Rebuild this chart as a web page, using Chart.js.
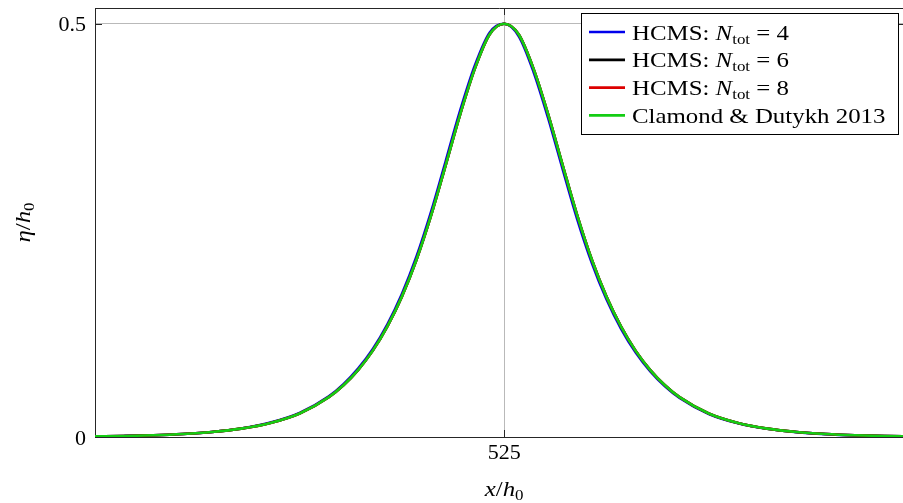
<!DOCTYPE html>
<html>
<head>
<meta charset="utf-8">
<script src="https://cdn.jsdelivr.net/npm/chart.js@4.4.1/dist/chart.umd.min.js"></script>
<style>
  html, body { margin: 0; padding: 0; background: #ffffff; overflow: hidden; }
  #wrap { position: relative; width: 906px; height: 503px; }
  canvas { display: block; }
</style>
</head>
<body>
<div id="wrap"><canvas id="wave" width="906" height="503"></canvas></div>
<script>
// Free-surface elevation eta/h0 of the solitary wave along x/h0.
const xPositions = [
  518, 518.5, 519, 519.5, 520, 520.5, 521, 521.5, 522,
  522.25, 522.5, 522.75, 523, 523.25, 523.5, 523.75, 524, 524.25, 524.5, 524.75,
  525,
  525.25, 525.5, 525.75, 526, 526.25, 526.5, 526.75, 527, 527.25, 527.5, 527.75, 528,
  528.5, 529, 529.5, 530, 530.5, 531, 531.5, 532
];

const etaHcms4 = [
  0.0007, 0.0013, 0.0022, 0.0037, 0.0061, 0.0103, 0.0174, 0.0291, 0.0491,
  0.0639, 0.0827, 0.1063, 0.1361, 0.173, 0.2183, 0.2726, 0.3339, 0.3957, 0.4498, 0.4892,
  0.4999,
  0.4848, 0.4422, 0.3863, 0.3241, 0.2634, 0.2105, 0.1666, 0.1309, 0.1021, 0.0793, 0.0613, 0.0473,
  0.0279, 0.0166, 0.0099, 0.0059, 0.0035, 0.002, 0.0011, 0.0007
];

const etaHcms6 = [
  0.0007, 0.0012, 0.0021, 0.0036, 0.006, 0.0101, 0.017, 0.0285, 0.0482,
  0.0626, 0.081, 0.1042, 0.1335, 0.1698, 0.2144, 0.268, 0.329, 0.391, 0.446, 0.487,
  0.5,
  0.487, 0.446, 0.391, 0.329, 0.268, 0.2144, 0.1698, 0.1335, 0.1042, 0.081, 0.0626, 0.0482,
  0.0285, 0.017, 0.0101, 0.006, 0.0036, 0.0021, 0.0012, 0.0007
];

const etaHcms8 = [
  0.0007, 0.0012, 0.0021, 0.0036, 0.006, 0.0101, 0.017, 0.0285, 0.0482,
  0.0626, 0.081, 0.1042, 0.1335, 0.1698, 0.2144, 0.268, 0.329, 0.391, 0.446, 0.487,
  0.5,
  0.487, 0.446, 0.391, 0.329, 0.268, 0.2144, 0.1698, 0.1335, 0.1042, 0.081, 0.0626, 0.0482,
  0.0285, 0.017, 0.0101, 0.006, 0.0036, 0.0021, 0.0012, 0.0007
];

const etaClamondDutykh = [
  0.0007, 0.0012, 0.0021, 0.0036, 0.006, 0.0101, 0.017, 0.0285, 0.0482,
  0.0626, 0.081, 0.1042, 0.1335, 0.1698, 0.2144, 0.268, 0.329, 0.391, 0.446, 0.487,
  0.5,
  0.487, 0.446, 0.391, 0.329, 0.268, 0.2144, 0.1698, 0.1335, 0.1042, 0.081, 0.0626, 0.0482,
  0.0285, 0.017, 0.0101, 0.006, 0.0036, 0.0021, 0.0012, 0.0007
];

const xTickValues = [525];
const yTickValues = [0, 0.5];

// Legend entries as text runs: rm = upright, it = italic, sub = subscript
const legendEntries = [
  [['HCMS: ', 'rm'], ['N', 'it'], ['tot', 'sub'], [' = 4', 'rm']],
  [['HCMS: ', 'rm'], ['N', 'it'], ['tot', 'sub'], [' = 6', 'rm']],
  [['HCMS: ', 'rm'], ['N', 'it'], ['tot', 'sub'], [' = 8', 'rm']],
  [['Clamond & Dutykh 2013', 'rm']]
];
const xTitleRuns = [['x', 'it'], ['/', 'rm'], ['h', 'it'], ['0', 'sub']];
const yTitleRuns = [['η', 'it'], ['/', 'rm'], ['h', 'it'], ['0', 'sub']];

const FAMILY = '"Liberation Serif", "Times New Roman", serif';
const SIZE = 22;
const SUB = 15;
const STRETCH = 1.13;
const COLORS = ['rgb(0,0,235)', '#000000', 'rgb(220,0,0)', 'rgb(20,205,20)'];
const AXIS = '#262626';

function toPoints(ys) {
  return xPositions.map((x, i) => ({ x: x, y: ys[i] }));
}

function lineSet(label, ys, color, order) {
  return {
    label: label,
    data: toPoints(ys),
    showLine: true,
    borderColor: color,
    backgroundColor: color,
    borderWidth: 2.6,
    pointRadius: 0,
    pointHoverRadius: 0,
    cubicInterpolationMode: 'monotone',
    fill: false,
    order: order
  };
}

function runFont(style) {
  if (style === 'it') return 'italic ' + SIZE + 'px ' + FAMILY;
  if (style === 'sub') return SUB + 'px ' + FAMILY;
  return SIZE + 'px ' + FAMILY;
}

function runsWidth(ctx, runs) {
  let w = 0;
  runs.forEach(([t, s]) => { ctx.font = runFont(s); w += ctx.measureText(t).width; });
  return w * STRETCH;
}

// draws mixed-style text, slightly widened, starting at (x, y) on the baseline
function drawRuns(ctx, runs, x, y) {
  ctx.save();
  ctx.translate(x, y);
  ctx.scale(STRETCH, 1);
  let cx = 0;
  runs.forEach(([t, s]) => {
    ctx.font = runFont(s);
    const dy = s === 'sub' ? 4 : 0;
    ctx.fillText(t, cx, dy);
    cx += ctx.measureText(t).width;
  });
  ctx.restore();
}

const decorations = {
  id: 'decorations',
  afterDraw(chart) {
    const ctx = chart.ctx;
    const a = chart.chartArea;
    const xs = chart.scales.x;
    const ys = chart.scales.y;
    ctx.save();

    // top and right axis lines
    ctx.strokeStyle = AXIS;
    ctx.lineWidth = 1;
    ctx.beginPath();
    ctx.moveTo(a.left, a.top + 0.5);
    ctx.lineTo(a.right, a.top + 0.5);
    ctx.moveTo(a.right - 0.5, a.top);
    ctx.lineTo(a.right - 0.5, a.bottom);
    ctx.stroke();

    // inward tick marks on all four sides
    const tl = 7;
    ctx.beginPath();
    xTickValues.forEach(v => {
      const px = Math.round(xs.getPixelForValue(v)) + 0.5;
      ctx.moveTo(px, a.bottom); ctx.lineTo(px, a.bottom - tl);
      ctx.moveTo(px, a.top); ctx.lineTo(px, a.top + tl);
    });
    yTickValues.forEach(v => {
      const py = Math.round(ys.getPixelForValue(v)) + 0.5;
      ctx.moveTo(a.left, py); ctx.lineTo(a.left + tl, py);
      ctx.moveTo(a.right, py); ctx.lineTo(a.right - tl, py);
    });
    ctx.stroke();

    // legend box
    const lx = 581.5, ly = 13.5, lw = 317, lh = 121;
    ctx.fillStyle = '#ffffff';
    ctx.fillRect(lx, ly, lw, lh);
    ctx.strokeStyle = '#000000';
    ctx.strokeRect(lx, ly, lw, lh);
    ctx.textBaseline = 'alphabetic';
    ctx.textAlign = 'left';
    legendEntries.forEach((runs, i) => {
      const cy = 32 + i * 27.8;
      ctx.strokeStyle = COLORS[i];
      ctx.lineWidth = 2.7;
      ctx.beginPath();
      ctx.moveTo(589, cy);
      ctx.lineTo(625, cy);
      ctx.stroke();
      ctx.fillStyle = '#000000';
      drawRuns(ctx, runs, 632, cy + 7.5);
    });

    // axis titles
    ctx.fillStyle = '#000000';
    const xcx = xs.getPixelForValue(525);
    const wx = runsWidth(ctx, xTitleRuns);
    drawRuns(ctx, xTitleRuns, xcx - wx / 2, 496);

    const wy = runsWidth(ctx, yTitleRuns);
    ctx.translate(30, (a.top + a.bottom) / 2);
    ctx.rotate(-Math.PI / 2);
    drawRuns(ctx, yTitleRuns, -wy / 2, 0);
    ctx.restore();
  }
};

new Chart(document.getElementById('wave'), {
  type: 'scatter',
  data: {
    datasets: [
      lineSet('HCMS: Ntot = 4', etaHcms4, COLORS[0], 3),
      lineSet('HCMS: Ntot = 6', etaHcms6, COLORS[1], 2),
      lineSet('HCMS: Ntot = 8', etaHcms8, COLORS[2], 1),
      lineSet('Clamond & Dutykh 2013', etaClamondDutykh, COLORS[3], 0)
    ]
  },
  options: {
    responsive: false,
    animation: false,
    devicePixelRatio: 1,
    events: [],
    layout: { padding: { top: 8, right: 2, left: 0, bottom: 0 } },
    plugins: { legend: { display: false }, tooltip: { enabled: false } },
    scales: {
      x: {
        type: 'linear',
        min: 518,
        max: 531.84,
        afterBuildTicks: s => { s.ticks = xTickValues.map(v => ({ value: v })); },
        afterFit: s => { s.height = 66; s.paddingLeft = 0; s.paddingRight = 0; },
        grid: { color: '#b9b9b9', lineWidth: 1, drawTicks: false },
        border: { display: true, color: AXIS, width: 1 },
        ticks: { padding: 3, color: '#000000', font: { family: FAMILY, size: SIZE }, maxRotation: 0 }
      },
      y: {
        type: 'linear',
        min: 0,
        max: 0.519,
        afterBuildTicks: s => { s.ticks = yTickValues.map(v => ({ value: v })); },
        afterFit: s => { s.width = 95; s.paddingTop = 0; s.paddingBottom = 0; },
        grid: { color: '#b9b9b9', lineWidth: 1, drawTicks: false },
        border: { display: true, color: AXIS, width: 1 },
        ticks: { padding: 9, labelOffset: 2, color: '#000000', font: { family: FAMILY, size: SIZE } }
      }
    }
  },
  plugins: [decorations]
});
</script>
</body>
</html>
